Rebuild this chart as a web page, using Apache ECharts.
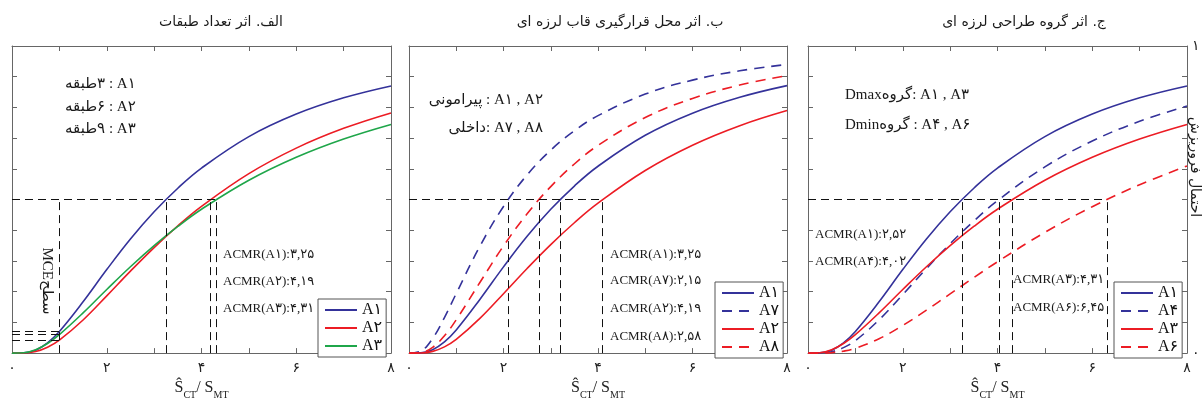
<!DOCTYPE html>
<html><head><meta charset="utf-8">
<script src="https://cdn.jsdelivr.net/npm/echarts@6/dist/echarts.min.js"></script>
<style>html,body{margin:0;padding:0;background:#fff}#c{width:1204px;height:405px}</style>
</head><body><div id="c"></div>
<script>
// ---------- data ----------
const xs = [0, 0.25, 0.5, 0.75, 1, 1.5, 2, 2.5, 3, 3.5, 4, 5, 6, 7, 8];
const xTickLabels = ['۰', '', '۲', '', '۴', '', '۶', '', '۸'];
const yEndLabels = ['۰', '۱'];

// panel 1 (الف)
const p1_A1 = [0, 0.0007, 0.0096, 0.0334, 0.0703, 0.1669, 0.2719, 0.3715, 0.4602, 0.5369, 0.6024, 0.7049, 0.7783, 0.8312, 0.8699];
const p1_A2 = [0, 0.0003, 0.0052, 0.0191, 0.0422, 0.1079, 0.1864, 0.2669, 0.3437, 0.4142, 0.4777, 0.5843, 0.6674, 0.7318, 0.7821];
const p1_A3 = [0, 0.0012, 0.0110, 0.0314, 0.0601, 0.1308, 0.2070, 0.2812, 0.3500, 0.4124, 0.4684, 0.5628, 0.6376, 0.6971, 0.7447];
const p1_medians = [3.25, 4.19, 4.31];
const p1_mceX = 1;
const p1_mceLevels = [0.070, 0.060, 0.042];

// panel 2 (ب)
const p2_A1 = [0, 0.0008, 0.0110, 0.0366, 0.0755, 0.1748, 0.2808, 0.3803, 0.4682, 0.5440, 0.6085, 0.7092, 0.7811, 0.8330, 0.8710];
const p2_A7 = [0, 0.0067, 0.0476, 0.1156, 0.1941, 0.3478, 0.4774, 0.5804, 0.6609, 0.7238, 0.7732, 0.8434, 0.8889, 0.9192, 0.9401];
const p2_A2 = [0, 0.0004, 0.0056, 0.0203, 0.0446, 0.1129, 0.1935, 0.2756, 0.3533, 0.4244, 0.4881, 0.5945, 0.6768, 0.7404, 0.7897];
const p2_A8 = [0, 0.0017, 0.0188, 0.0565, 0.1087, 0.2299, 0.3489, 0.4537, 0.5422, 0.6157, 0.6762, 0.7670, 0.8293, 0.8727, 0.9036];
const p2_medians = [3.2, 2.1, 4.1, 2.75];

// panel 3 (ج)
const p3_A1 = [0, 0.0007, 0.0096, 0.0334, 0.0703, 0.1669, 0.2719, 0.3715, 0.4602, 0.5369, 0.6024, 0.7049, 0.7783, 0.8312, 0.8699];
const p3_A4 = [0, 0.0003, 0.0045, 0.0178, 0.0407, 0.1083, 0.1905, 0.2753, 0.3561, 0.4300, 0.4963, 0.6062, 0.6906, 0.7549, 0.8043];
const p3_A3 = [0, 0.0012, 0.0110, 0.0314, 0.0601, 0.1308, 0.2070, 0.2812, 0.3500, 0.4124, 0.4684, 0.5628, 0.6376, 0.6971, 0.7447];
const p3_A6 = [0, 0.0001, 0.0015, 0.0065, 0.0158, 0.0468, 0.0900, 0.1400, 0.1928, 0.2458, 0.2974, 0.3930, 0.4766, 0.5482, 0.6091];
const p3_medians = [3.25, 4.03, 4.31, 6.31];

const titles = ['الف. اثر تعداد طبقات', 'ب. اثر محل قرارگیری قاب لرزه ای', 'ج. اثر گروه طراحی لرزه ای'];
// annotation lines, given as pieces in left-to-right visual order
const p1_notes = [['طبقه', '۳', ' : A۱'], ['طبقه', '۶', ' : A۲'], ['طبقه', '۹', ' : A۳']];
const p2_notes = [['پیرامونی', ' : A۱ , A۲'], ['داخلی', ': A۷ , A۸']];
const p3_notes = [['Dmax', 'گروه', ': A۱ , A۳'], ['Dmin', 'گروه', ' : A۴ , A۶']];
const p1_acmr = ['ACMR(A۱):۳,۲۵', 'ACMR(A۲):۴,۱۹', 'ACMR(A۳):۴,۳۱'];
const p2_acmr = ['ACMR(A۱):۳,۲۵', 'ACMR(A۷):۲,۱۵', 'ACMR(A۲):۴,۱۹', 'ACMR(A۸):۲,۵۸'];
const p3_acmr = ['ACMR(A۱):۲,۵۲', 'ACMR(A۴):۴,۰۲', 'ACMR(A۳):۴,۳۱', 'ACMR(A۶):۶,۴۵'];
const mceText = ['MCE', 'سطح'];
const yName = 'احتمال فروریزش';

// ---------- styles ----------
const BLUE = '#34329a', RED = '#ec1c24', GREEN = '#1fa64a';
const SERIF = '"Liberation Serif","DejaVu Sans",serif';
const SANS = '"DejaVu Sans",sans-serif';
const FRAME = '#666';
const LRO = '\u202D', PDF = '\u202C';

const grids = [
  {left: 12, top: 46, width: 379, height: 317},
  {left: 409, top: 46, width: 378, height: 317},
  {left: 808, top: 46, width: 379, height: 317}
];

const xAxes = [], yAxes = [];
grids.forEach((g, i) => {
  const base = {gridIndex: i, type: 'value', min: 0, max: 8, interval: 1, splitLine: {show: false},
    axisLine: {show: true, onZero: false, lineStyle: {color: FRAME, width: 1}},
    axisTick: {show: true, inside: true, length: 5, lineStyle: {color: FRAME}}};
  xAxes.push(Object.assign({}, base, {position: 'bottom',
    axisLabel: {show: true, margin: 8, fontFamily: SANS, fontSize: 14, color: '#222',
      formatter: v => xTickLabels[Math.round(v)] || ''},
    name: '{s|Ŝ}{sub|CT}{s|/ S}{sub|MT}', nameLocation: 'middle', nameGap: 21,
    nameTextStyle: {rich: {
      s: {fontFamily: SERIF, fontSize: 16, color: '#222', verticalAlign: 'top'},
      sub: {fontFamily: SERIF, fontSize: 10, color: '#222', verticalAlign: 'bottom', padding: [10, 0, 0, 0]}
    }}}));
  xAxes.push(Object.assign({}, base, {position: 'top', axisLabel: {show: false}}));
  const ybase = {gridIndex: i, type: 'value', min: 0, max: 1, interval: 0.1, splitLine: {show: false},
    axisLine: {show: true, onZero: false, lineStyle: {color: FRAME, width: 1}},
    axisTick: {show: true, inside: true, length: 5, lineStyle: {color: FRAME}}};
  yAxes.push(Object.assign({}, ybase, {position: 'left', axisLabel: {show: false}}));
  yAxes.push(Object.assign({}, ybase, {position: 'right',
    axisLabel: {show: i === 2, margin: 5, fontFamily: SANS, fontSize: 14, color: '#222',
      formatter: v => (Math.abs(v) < 1e-6 ? yEndLabels[0] : (Math.abs(v - 1) < 1e-6 ? yEndLabels[1] : ''))}}));
});

function pts(vals) { return xs.map((x, i) => [x, vals[i]]); }
const refStyle = {color: '#111', type: [8, 5], width: 1};
function refLines(medians, extra) {
  const d = [];
  medians.forEach(m => d.push([{coord: [m, 0]}, {coord: [m, 0.5]}]));
  d.push([{coord: [0, 0.5]}, {coord: [Math.max.apply(null, medians), 0.5]}]);
  (extra || []).forEach(e => d.push(e));
  return {silent: true, symbol: 'none', label: {show: false}, lineStyle: refStyle, data: d};
}
const p1Extra = [[{coord: [p1_mceX, 0]}, {coord: [p1_mceX, 0.5]}]];
p1_mceLevels.forEach(l => p1Extra.push([{coord: [0, l]}, {coord: [p1_mceX, l]}]));

function ser(id, panel, vals, color, dashed, ml) {
  const s = {name: id, type: 'line', xAxisIndex: panel * 2, yAxisIndex: panel * 2, data: pts(vals),
    smooth: 0.4, symbol: 'none', showSymbol: false,
    lineStyle: {color: color, width: 1.6, type: dashed ? [10, 7] : 'solid'}, itemStyle: {color: color}, z: 3};
  if (ml) s.markLine = ml;
  return s;
}
const series = [
  ser('p1A1', 0, p1_A1, BLUE, false, refLines(p1_medians, p1Extra)),
  ser('p1A2', 0, p1_A2, RED, false),
  ser('p1A3', 0, p1_A3, GREEN, false),
  ser('p2A1', 1, p2_A1, BLUE, false, refLines(p2_medians)),
  ser('p2A7', 1, p2_A7, BLUE, true),
  ser('p2A2', 1, p2_A2, RED, false),
  ser('p2A8', 1, p2_A8, RED, true),
  ser('p3A1', 2, p3_A1, BLUE, false, refLines(p3_medians)),
  ser('p3A4', 2, p3_A4, BLUE, true),
  ser('p3A3', 2, p3_A3, RED, false),
  ser('p3A6', 2, p3_A6, RED, true)
];
const legendNames = {p1A1: 'A۱', p1A2: 'A۲', p1A3: 'A۳', p2A1: 'A۱', p2A7: 'A۷', p2A2: 'A۲', p2A8: 'A۸',
  p3A1: 'A۱', p3A4: 'A۴', p3A3: 'A۳', p3A6: 'A۶'};
function leg(data, left, top) {
  return {data: data, left: left, top: top, orient: 'vertical', itemWidth: 32, itemHeight: 14, itemGap: 2,
    padding: [3, 4, 3, 6], borderColor: '#555', borderWidth: 1, backgroundColor: '#fff', borderRadius: 0,
    selectedMode: false, formatter: n => legendNames[n],
    itemStyle: {opacity: 0},
    textStyle: {fontFamily: SERIF, fontSize: 16, color: '#111', padding: [0, 0, 0, 0]}};
}

const g = [];
function txt(t, x, y, opt) {
  opt = opt || {};
  g.push({type: 'text', x: x, y: y, rotation: opt.rot || 0, silent: true, z: 10,
    style: {text: t, font: (opt.size || 14) + 'px ' + (opt.font || SERIF), fill: opt.color || '#1a1a1a',
      align: opt.align || 'left', textAlign: opt.align || 'left', verticalAlign: 'middle', textVerticalAlign: 'middle'}});
}
// rich text: pieces drawn one after another, left to right
function rtxt(pieces, x, y, opt) {
  opt = opt || {};
  const size = opt.size || 15;
  g.push({type: 'text', x: x, y: y, rotation: opt.rot || 0, silent: true, z: 10,
    style: {text: pieces.map(p => '{r|' + p + '}').join(''),
      rich: {r: {fontFamily: SERIF, fontSize: size, fill: '#1a1a1a', color: '#1a1a1a'}},
      fontFamily: SERIF, fontSize: size, fill: '#1a1a1a',
      align: opt.align || 'left', textAlign: opt.align || 'left', verticalAlign: 'middle', textVerticalAlign: 'middle'}});
}
txt(titles[0], 221, 22, {align: 'center', font: SANS, size: 14});
txt(titles[1], 620, 22, {align: 'center', font: SANS, size: 14});
txt(titles[2], 1024, 22, {align: 'center', font: SANS, size: 14});
[84, 107, 129].forEach((y, i) => rtxt(p1_notes[i], 65, y));
rtxt(p2_notes[0], 543, 100, {align: 'right'});
rtxt(p2_notes[1], 543, 128, {align: 'right'});
rtxt(p3_notes[0], 845, 95);
rtxt(p3_notes[1], 845, 125);
[255, 282, 309].forEach((y, i) => txt(LRO + p1_acmr[i] + PDF, 223, y, {size: 13}));
[255, 281, 309, 337].forEach((y, i) => txt(LRO + p2_acmr[i] + PDF, 610, y, {size: 13}));
txt(LRO + p3_acmr[0] + PDF, 815, 235, {size: 13});
txt(LRO + p3_acmr[1] + PDF, 815, 262, {size: 13});
txt(LRO + p3_acmr[2] + PDF, 1013, 280, {size: 13});
txt(LRO + p3_acmr[3] + PDF, 1013, 308, {size: 13});
rtxt(mceText, 47, 281, {align: 'center', size: 15, rot: -Math.PI / 2});
txt(yName, 1195, 167, {align: 'center', font: SANS, size: 14, rot: -Math.PI / 2});

const chart = echarts.init(document.getElementById('c'), null, {renderer: 'canvas'});
chart.setOption({
  animation: false,
  backgroundColor: '#fff',
  textStyle: {fontFamily: SERIF},
  grid: grids,
  xAxis: xAxes,
  yAxis: yAxes,
  legend: [
    leg(['p1A1', 'p1A2', 'p1A3'], 318, 299),
    leg(['p2A1', 'p2A7', 'p2A2', 'p2A8'], 715, 282),
    leg(['p3A1', 'p3A4', 'p3A3', 'p3A6'], 1114, 282)
  ],
  series: series,
  graphic: {elements: g}
});
</script></body></html>
